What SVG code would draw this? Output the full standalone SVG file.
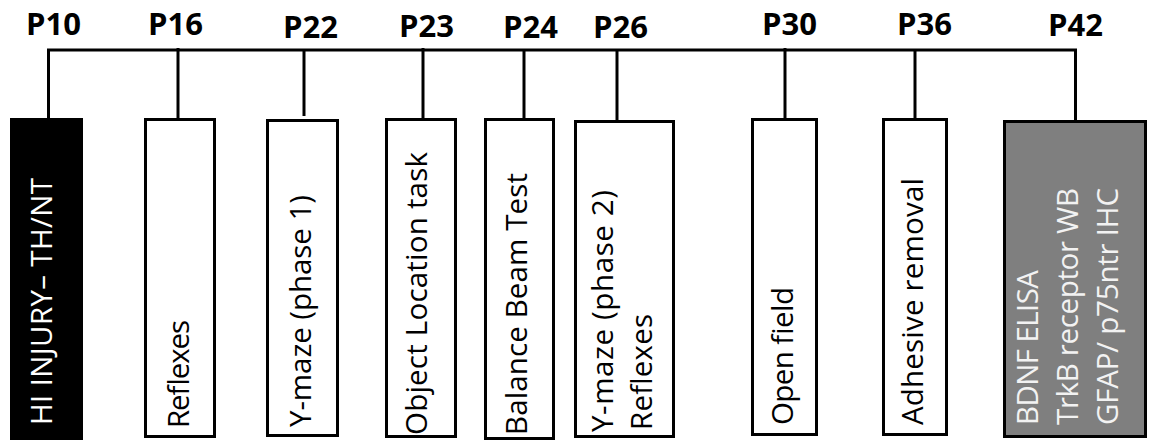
<svg xmlns="http://www.w3.org/2000/svg" width="1149" height="441" viewBox="0 0 1149 441">
<style>
.lbl{font-family:"Open Sans","Liberation Sans",sans-serif;font-weight:bold;font-size:31px;fill:#000}
.box{fill:#fff;stroke:#000;stroke-width:3}
.txt{font-family:"Open Sans","Liberation Sans",sans-serif;font-size:29.5px;fill:#000}
.wt{fill:#fff}
.lt{fill:#f2f2f2}
.con{fill:none;stroke:#000;stroke-width:3}
</style>
<rect width="1149" height="441" fill="#fff"/>
<g id="connectors">
<polyline class="con" points="48.5,118 48.5,50 1075.5,50 1075.5,120"/>
<line class="con" x1="178" y1="48" x2="178" y2="118"/>
<line class="con" x1="304" y1="50" x2="304" y2="116"/>
<line class="con" x1="423" y1="48" x2="423" y2="118"/>
<line class="con" x1="524" y1="50" x2="524" y2="118"/>
<line class="con" x1="617" y1="50" x2="617" y2="120"/>
<line class="con" x1="785" y1="48" x2="785" y2="118"/>
<line class="con" x1="915" y1="50" x2="915" y2="118"/>
</g>
<g id="labels">
<text class="lbl" x="26" y="35">P10</text>
<text class="lbl" x="148" y="35">P16</text>
<text class="lbl" x="283" y="38">P22</text>
<text class="lbl" x="399" y="37">P23</text>
<text class="lbl" x="503" y="38">P24</text>
<text class="lbl" x="593" y="38">P26</text>
<text class="lbl" x="762" y="35">P30</text>
<text class="lbl" x="897" y="35">P36</text>
<text class="lbl" x="1048" y="36">P42</text>
</g>
<g id="n1">
<rect x="10" y="118" width="73" height="322" fill="#000"/>
<text class="txt wt" transform="translate(52,425) rotate(-90)" textLength="247">HI INJURY– TH/NT</text>
</g>
<g id="n2">
<rect class="box" x="145.5" y="119.5" width="69" height="317"/>
<text class="txt" transform="translate(189,428) rotate(-90)" textLength="108">Reflexes</text>
</g>
<g id="n3">
<rect class="box" x="267.5" y="120.5" width="70" height="315"/>
<text class="txt" transform="translate(311,427) rotate(-90)" textLength="232">Y-maze (phase 1)</text>
</g>
<g id="n4">
<rect class="box" x="386.5" y="119.5" width="69" height="317"/>
<text class="txt" transform="translate(427,435) rotate(-90)" textLength="283">Object Location task</text>
</g>
<g id="n5">
<rect class="box" x="485.5" y="119.5" width="68" height="319"/>
<text class="txt" transform="translate(527,435) rotate(-90)" textLength="262">Balance Beam Test</text>
</g>
<g id="n6">
<rect class="box" x="575.5" y="121.5" width="98" height="315"/>
<text class="txt" transform="translate(613,432) rotate(-90)" textLength="242">Y-maze (phase 2)</text>
<text class="txt" transform="translate(652,430) rotate(-90)" textLength="116">Reflexes</text>
</g>
<g id="n7">
<rect class="box" x="752.5" y="119.5" width="64" height="315"/>
<text class="txt" transform="translate(793,425) rotate(-90)" textLength="138">Open field</text>
</g>
<g id="n8">
<rect class="box" x="883.5" y="119.5" width="63" height="315"/>
<text class="txt" transform="translate(923,425) rotate(-90)" textLength="247">Adhesive removal</text>
</g>
<g id="n9">
<rect class="box" x="1004.5" y="121.5" width="141" height="315" style="fill:#7f7f7f"/>
<text class="txt lt" transform="translate(1038,425) rotate(-90)" textLength="155">BDNF ELISA</text>
<text class="txt lt" transform="translate(1078,425) rotate(-90)" textLength="237">TrkB receptor WB</text>
<text class="txt lt" transform="translate(1118,425) rotate(-90)" textLength="237">GFAP/ p75ntr IHC</text>
</g>
</svg>
